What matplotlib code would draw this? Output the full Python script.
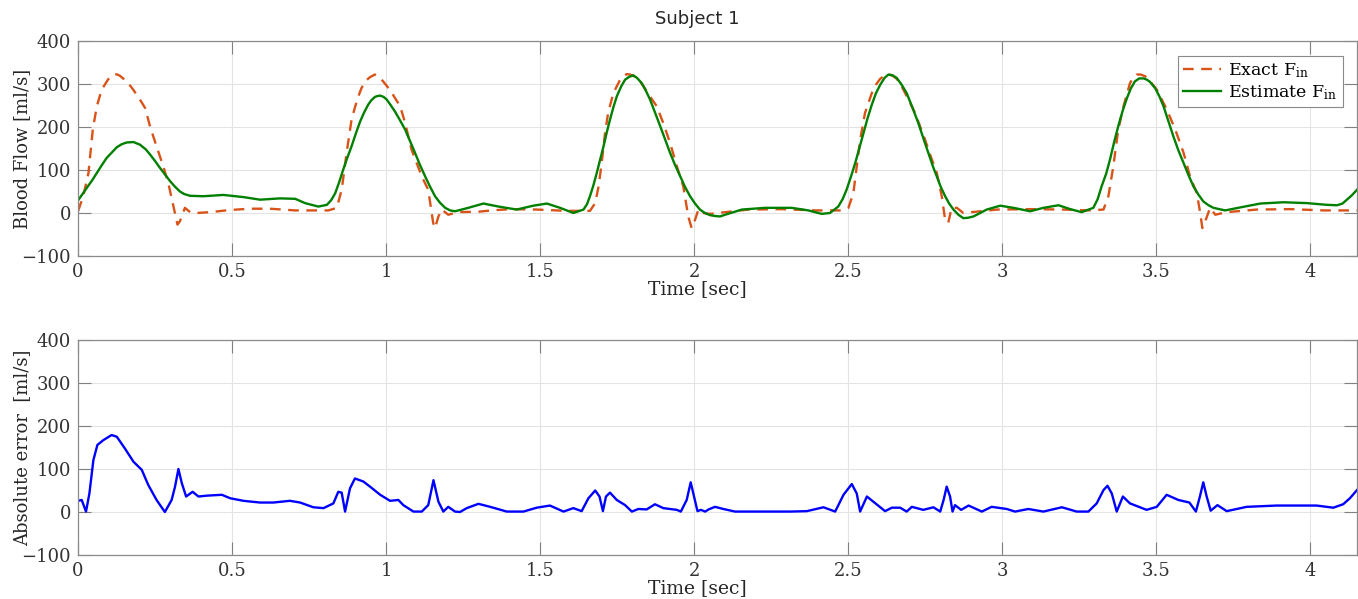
import numpy as np
import matplotlib
matplotlib.use('Agg')
import matplotlib.pyplot as plt

# values
t_exact = [0.000, 0.017, 0.034, 0.048, 0.061, 0.077, 0.098, 0.108, 0.120, 0.128, 0.136, 0.148,
           0.163, 0.180, 0.201, 0.218, 0.234, 0.255, 0.277, 0.293, 0.310, 0.323, 0.331, 0.347,
           0.364, 0.385, 0.429, 0.494, 0.558, 0.623, 0.705, 0.813, 0.840, 0.856, 0.872, 0.888,
           0.900, 0.910, 0.920, 0.932, 0.948, 0.964, 0.976, 0.986, 1.002, 1.019, 1.046, 1.062,
           1.083, 1.116, 1.137, 1.153, 1.159, 1.170, 1.181, 1.202, 1.235, 1.300, 1.343, 1.403,
           1.489, 1.587, 1.662, 1.679, 1.690, 1.700, 1.711, 1.721, 1.738, 1.760, 1.770, 1.781,
           1.792, 1.803, 1.814, 1.825, 1.840, 1.857, 1.879, 1.900, 1.922, 1.944, 1.965, 1.981,
           1.992, 2.003, 2.014, 2.030, 2.052, 2.101, 2.176, 2.285, 2.393, 2.479, 2.501, 2.517,
           2.528, 2.539, 2.555, 2.577, 2.590, 2.604, 2.617, 2.631, 2.645, 2.658, 2.672, 2.685,
           2.717, 2.750, 2.766, 2.788, 2.804, 2.815, 2.825, 2.836, 2.853, 2.874, 2.929, 2.983,
           3.091, 3.199, 3.286, 3.329, 3.345, 3.361, 3.377, 3.394, 3.415, 3.426, 3.437, 3.450,
           3.464, 3.475, 3.485, 3.502, 3.535, 3.562, 3.589, 3.610, 3.632, 3.643, 3.650, 3.661,
           3.675, 3.692, 3.729, 3.827, 3.935, 4.043, 4.152]
f_exact = [4, 39, 93, 194, 248, 287, 311, 318, 323, 322, 319, 312,
           302, 286, 264, 244, 201, 155, 108, 70, 15, -27, -19, 12,
           2, 0, 2, 7, 10, 10, 6, 6, 12, 54, 140, 217,
           248, 271, 290, 306, 316, 322, 317, 310, 296, 279, 248, 209,
           147, 85, 54, -23, -35, -8, 8, -4, 2, 3, 6, 9,
           8, 5, 5, 23, 62, 116, 186, 233, 279, 310, 318, 323,
           322, 319, 313, 306, 290, 271, 248, 209, 163, 109, 62, -8,
           -35, -16, 8, 0, -2, 2, 8, 9, 6, 6, 12, 46,
           109, 170, 233, 279, 298, 312, 319, 323, 319, 312, 297, 279,
           233, 170, 136, 93, 39, -16, -23, 12, 12, 0, 4, 8,
           9, 8, 6, 8, 39, 109, 194, 248, 302, 315, 322, 322,
           318, 311, 302, 287, 240, 194, 140, 85, 46, 0, -35, -16,
           12, -4, 2, 8, 9, 6, 6]

t_est = [0.000, 0.028, 0.045, 0.061, 0.077, 0.093, 0.110, 0.126, 0.142, 0.158, 0.180, 0.201,
         0.220, 0.234, 0.250, 0.266, 0.283, 0.299, 0.315, 0.331, 0.345, 0.364, 0.407, 0.472,
         0.537, 0.591, 0.656, 0.705, 0.737, 0.780, 0.808, 0.822, 0.835, 0.848, 0.861, 0.874,
         0.888, 0.902, 0.916, 0.929, 0.942, 0.952, 0.964, 0.972, 0.981, 0.992, 1.002, 1.015,
         1.029, 1.045, 1.062, 1.078, 1.094, 1.110, 1.127, 1.143, 1.159, 1.175, 1.192, 1.208,
         1.224, 1.267, 1.316, 1.365, 1.424, 1.478, 1.522, 1.565, 1.608, 1.641, 1.652, 1.662,
         1.673, 1.684, 1.695, 1.706, 1.716, 1.727, 1.738, 1.749, 1.763, 1.776, 1.790, 1.803,
         1.815, 1.830, 1.843, 1.857, 1.873, 1.890, 1.906, 1.922, 1.938, 1.955, 1.971, 1.987,
         2.003, 2.019, 2.035, 2.052, 2.068, 2.084, 2.101, 2.155, 2.230, 2.317, 2.371, 2.414,
         2.441, 2.468, 2.482, 2.495, 2.509, 2.523, 2.537, 2.550, 2.563, 2.577, 2.590, 2.604,
         2.618, 2.631, 2.645, 2.658, 2.674, 2.690, 2.709, 2.728, 2.747, 2.766, 2.777, 2.788,
         2.800, 2.815, 2.828, 2.842, 2.858, 2.874, 2.890, 2.907, 2.950, 2.994, 3.037, 3.091,
         3.134, 3.183, 3.221, 3.258, 3.296, 3.310, 3.323, 3.338, 3.350, 3.363, 3.377, 3.391,
         3.405, 3.418, 3.431, 3.445, 3.459, 3.470, 3.480, 3.497, 3.510, 3.524, 3.540, 3.556,
         3.572, 3.589, 3.605, 3.621, 3.637, 3.653, 3.670, 3.686, 3.724, 3.773, 3.838, 3.913,
         3.989, 4.054, 4.087, 4.105, 4.119, 4.135, 4.152]
f_est = [29, 58, 75, 93, 111, 128, 141, 153, 160, 164, 165, 159,
         148, 136, 121, 105, 89, 74, 61, 50, 44, 40, 39, 42,
         37, 31, 34, 33, 23, 15, 19, 30, 46, 72, 101, 128,
         155, 185, 213, 234, 252, 262, 270, 272, 273, 270, 264, 251,
         236, 216, 194, 167, 140, 112, 85, 61, 39, 24, 12, 6,
         4, 12, 22, 15, 8, 17, 22, 12, 0, 8, 20, 39,
         64, 93, 124, 155, 186, 217, 246, 271, 294, 310, 317, 320,
         314, 302, 285, 264, 234, 202, 171, 140, 112, 85, 60, 39,
         22, 8, 0, -5, -7, -8, -4, 8, 12, 12, 6, -2,
         0, 15, 32, 54, 84, 116, 152, 186, 220, 252, 278, 298,
         314, 322, 320, 314, 298, 279, 245, 209, 168, 128, 105, 85,
         62, 39, 22, 8, -4, -12, -11, -8, 8, 17, 12, 4,
         12, 18, 9, 2, 12, 32, 62, 92, 124, 163, 202, 237,
         267, 290, 306, 313, 313, 310, 305, 290, 272, 248, 213, 178,
         146, 116, 88, 62, 43, 27, 18, 12, 6, 13, 22, 25,
         23, 19, 18, 22, 31, 41, 54]

t_err = [0.000, 0.012, 0.026, 0.037, 0.050, 0.063, 0.082, 0.109, 0.126, 0.152, 0.180, 0.207,
         0.228, 0.255, 0.282, 0.304, 0.315, 0.326, 0.337, 0.351, 0.372, 0.391, 0.418, 0.467,
         0.494, 0.537, 0.591, 0.634, 0.688, 0.721, 0.764, 0.797, 0.829, 0.845, 0.856, 0.867,
         0.883, 0.899, 0.926, 0.948, 0.981, 1.013, 1.040, 1.056, 1.089, 1.116, 1.137, 1.154,
         1.170, 1.186, 1.202, 1.224, 1.240, 1.262, 1.300, 1.338, 1.392, 1.446, 1.489, 1.532,
         1.576, 1.608, 1.635, 1.657, 1.679, 1.693, 1.704, 1.714, 1.727, 1.749, 1.776, 1.798,
         1.819, 1.846, 1.873, 1.900, 1.944, 1.957, 1.976, 1.989, 2.000, 2.011, 2.022, 2.036,
         2.047, 2.068, 2.095, 2.133, 2.203, 2.312, 2.366, 2.420, 2.458, 2.485, 2.512, 2.528,
         2.539, 2.561, 2.582, 2.620, 2.642, 2.669, 2.690, 2.707, 2.744, 2.777, 2.799, 2.810,
         2.820, 2.831, 2.839, 2.847, 2.867, 2.891, 2.934, 2.966, 3.015, 3.042, 3.085, 3.134,
         3.194, 3.242, 3.280, 3.307, 3.329, 3.342, 3.356, 3.372, 3.392, 3.415, 3.469, 3.502,
         3.534, 3.572, 3.608, 3.629, 3.642, 3.653, 3.664, 3.677, 3.699, 3.729, 3.761, 3.794,
         3.891, 4.021, 4.075, 4.107, 4.129, 4.152]
abs_err = [26, 28, 1, 43, 121, 156, 167, 179, 175, 148, 117, 98,
           63, 28, 0, 28, 59, 100, 67, 36, 47, 36, 38, 40,
           32, 26, 22, 22, 26, 22, 11, 9, 20, 47, 45, 1,
           55, 78, 71, 59, 40, 26, 28, 16, 1, 1, 16, 74,
           24, 1, 12, 1, 0, 9, 19, 12, 1, 1, 10, 15,
           1, 9, 2, 32, 50, 36, 2, 36, 45, 28, 16, 1,
           7, 6, 18, 9, 5, 1, 28, 69, 36, 2, 5, 1,
           6, 12, 7, 1, 1, 1, 2, 11, 1, 40, 65, 43,
           1, 36, 24, 2, 10, 10, 1, 12, 5, 11, 1, 28,
           59, 36, 1, 16, 5, 15, 1, 12, 7, 1, 7, 1,
           11, 1, 1, 20, 51, 61, 43, 1, 36, 20, 5, 12,
           40, 28, 22, 1, 36, 69, 36, 3, 16, 2, 7, 12,
           15, 15, 10, 18, 32, 51]

x_ticks = [0, 0.5, 1, 1.5, 2, 2.5, 3, 3.5, 4]
x_ticklabels = ['0', '0.5', '1', '1.5', '2', '2.5', '3', '3.5', '4']
y_ticks = [-100, 0, 100, 200, 300, 400]

plt.rcParams['font.family'] = ['DejaVu Serif']
plt.rcParams['mathtext.fontset'] = 'dejavuserif'

W, H = 1358, 599
fig = plt.figure(figsize=(W / 100, H / 100), dpi=100)

ax1 = fig.add_axes([78 / W, 1 - 256 / H, 1279 / W, 215 / H])
ax2 = fig.add_axes([78 / W, 1 - 555 / H, 1279 / W, 215 / H])

ax1.plot(t_exact, f_exact, color='#D95319', lw=1.7, dashes=(4.5, 3.2), label=r'Exact F$_{\mathrm{in}}$')
ax1.plot(t_est, f_est, color='#008000', lw=1.7, label=r'Estimate F$_{\mathrm{in}}$')
ax2.plot(t_err, abs_err, color='#0000FF', lw=1.7)

for ax in (ax1, ax2):
    ax.set_xlim(0, 4.152)
    ax.set_ylim(-100, 400)
    ax.set_xticks(x_ticks)
    ax.set_xticklabels(x_ticklabels)
    ax.set_yticks(y_ticks)
    ax.grid(True, color='#E3E3E3', lw=0.8)
    ax.set_axisbelow(True)
    ax.tick_params(direction='in', length=9.5, width=0.8, color='#808080',
                   top=True, right=True, labelsize=13, labelcolor='#333333', pad=5)
    for s in ax.spines.values():
        s.set_color('#8A8A8A')
        s.set_linewidth(0.9)
    ax.set_xlabel('Time [sec]', fontsize=13.5, color='#262626', va='center')
    ax.xaxis.set_label_coords(0.484, -0.155)

ax1.set_ylabel('Blood Flow [ml/s]', fontsize=13, color='#262626', va='center')
ax1.yaxis.set_label_coords(-0.044, 0.5)
ax2.set_ylabel('Absolute error  [ml/s]', fontsize=13, color='#262626', va='center')
ax2.yaxis.set_label_coords(-0.044, 0.5)

leg = ax1.legend(loc='upper right', bbox_to_anchor=(0.989, 0.93), fontsize=12.5,
                 fancybox=False, framealpha=1, edgecolor='#8A8A8A',
                 handlelength=2.2, handletextpad=0.4, borderpad=0.3, labelspacing=0.2,
                 borderaxespad=0)
leg.get_frame().set_linewidth(0.8)

fig.text(697 / W, 1 - 19 / H, 'Subject 1', ha='center', va='center', fontsize=13,
         color='#262626', family='DejaVu Sans')

fig.savefig('out.png', dpi=100)
